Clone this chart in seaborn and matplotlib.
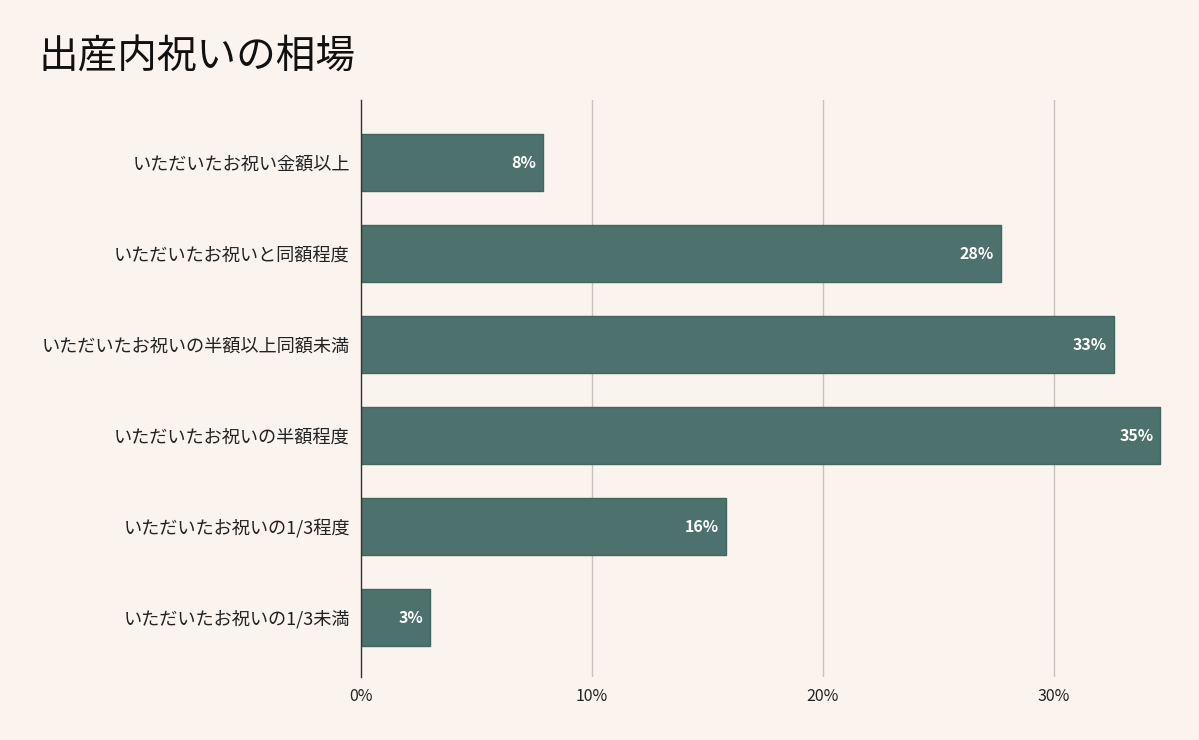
import matplotlib
matplotlib.use("Agg")
import matplotlib.pyplot as plt
import seaborn as sns
import pandas as pd

categories = [
    "いただいたお祝い金額以上",
    "いただいたお祝いと同額程度",
    "いただいたお祝いの半額以上同額未満",
    "いただいたお祝いの半額程度",
    "いただいたお祝いの1/3程度",
    "いただいたお祝いの1/3未満",
]
values = [7.9, 27.7, 32.6, 34.6, 15.8, 3.0]
xticks = [0, 10, 20, 30]
xtick_labels = ["0%", "10%", "20%", "30%"]
title = "出産内祝いの相場"

sns.set_theme(style="white")
plt.rcParams['font.family'] = ['Noto Sans CJK JP', 'DejaVu Sans']

bg = "#FBF3EE"
bar_color = "#4D716C"

df = pd.DataFrame({"cat": categories, "val": values})

fig = plt.figure(figsize=(11.99, 7.40), dpi=100, facecolor=bg)
ax = fig.add_axes([0.301, 0.085, 0.684, 0.78])
ax.set_facecolor(bg)

sns.barplot(data=df, y="cat", x="val", orient="h", color=bar_color,
            width=0.63, saturation=1, ax=ax, zorder=3,
            edgecolor="#43655F", linewidth=1)

for i, v in enumerate(values):
    ax.text(v - 0.3, i, f"{round(v)}%", ha="right", va="center",
            color="white", fontsize=11.5, fontweight="bold", zorder=4)

ax.set_xlim(0, 35.5)
ax.set_ylim(5.655, -0.69)
ax.set_xticks(xticks)
ax.set_xticklabels(xtick_labels, fontsize=11.5, color="#222222")
ax.tick_params(axis="y", labelsize=13.1, colors="#222222", length=0, pad=8)
ax.tick_params(axis="x", length=0, pad=8)
ax.set_xlabel("")
ax.set_ylabel("")
for x in xticks[1:]:
    ax.axvline(x, color="#C8C2BE", linewidth=1, zorder=1)
for s in ["top", "right", "bottom"]:
    ax.spines[s].set_visible(False)
ax.spines["left"].set_color("#333333")
ax.spines["left"].set_linewidth(1)
ax.spines["left"].set_zorder(5)

fig.text(0.032, 0.922, title, fontsize=28.5, color="#111111", ha="left", va="center")

fig.savefig("out.png", dpi=100, facecolor=bg)
